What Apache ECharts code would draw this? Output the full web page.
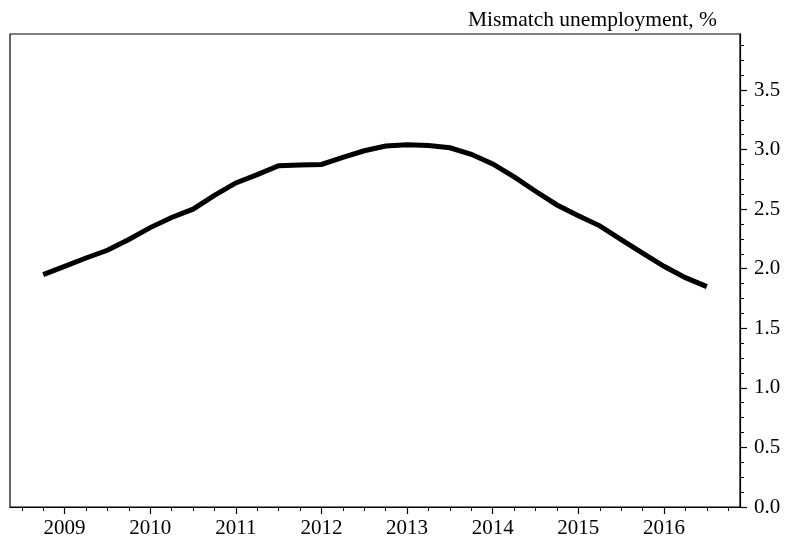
<!DOCTYPE html>
<html>
<head>
<meta charset="utf-8">
<script src="https://cdn.jsdelivr.net/npm/echarts@6/dist/echarts.min.js"></script>
<style>html,body{margin:0;padding:0;background:#fff;}#c{width:786px;height:540px;}</style>
</head>
<body>
<div id="c"></div>
<script>
const quarters = [2008.75,2009.0,2009.25,2009.5,2009.75,2010.0,2010.25,2010.5,2010.75,2011.0,2011.25,2011.5,2011.75,2012.0,2012.25,2012.5,2012.75,2013.0,2013.25,2013.5,2013.75,2014.0,2014.25,2014.5,2014.75,2015.0,2015.25,2015.5,2015.75,2016.0,2016.25,2016.5];
const mismatch = [1.95,2.02,2.09,2.155,2.245,2.345,2.43,2.50,2.615,2.72,2.79,2.865,2.87,2.875,2.935,2.99,3.03,3.04,3.035,3.015,2.96,2.88,2.77,2.65,2.535,2.445,2.36,2.245,2.13,2.02,1.925,1.85];
const yearTicks = [2009,2010,2011,2012,2013,2014,2015,2016];
const quarterTicks = [];
for (let y = 2008.5; y <= 2016.75; y += 0.25) quarterTicks.push(y);
const yMajor = [0,0.5,1,1.5,2,2.5,3,3.5];
const yMinor = [];
for (let v = 0; v <= 3.9; v += 0.125) yMinor.push(+v.toFixed(3));

const font = 'Liberation Serif';
const X_MIN = 2008.3625, X_MAX = 2016.8875, Y_MIN = 0, Y_MAX = 3.97;
const chart = echarts.init(document.getElementById('c'), null, {renderer: 'canvas'});
chart.setOption({
  animation: false,
  backgroundColor: '#fff',
  title: {
    text: 'Mismatch unemployment, %',
    right: 64, top: 4,
    textStyle: {fontFamily: font, fontSize: 21.5, fontWeight: 'normal', color: '#000'}
  },
  grid: {left: 10, right: 46, top: 34, bottom: 33, show: true, borderColor: '#000', borderWidth: 1.2, containLabel: false},
  xAxis: [
    {
      type: 'value', min: X_MIN, max: X_MAX, position: 'bottom',
      axisLine: {show: true, lineStyle: {color: '#000', width: 1.2}},
      axisTick: {show: true, customValues: yearTicks, length: 7, lineStyle: {color: '#000', width: 1.2}},
      axisLabel: {show: true, customValues: yearTicks, margin: 11, formatter: v => String(Math.round(v)),
        fontFamily: font, fontSize: 21, color: '#000'},
      splitLine: {show: false}
    },
    {
      type: 'value', min: X_MIN, max: X_MAX, position: 'bottom',
      axisLine: {show: false},
      axisTick: {show: true, customValues: quarterTicks, length: 4, lineStyle: {color: '#000', width: 1}},
      axisLabel: {show: false},
      splitLine: {show: false}
    }
  ],
  yAxis: [
    {
      type: 'value', min: Y_MIN, max: Y_MAX, position: 'right',
      axisLine: {show: true, lineStyle: {color: '#000', width: 1.2}},
      axisTick: {show: true, customValues: yMajor, length: 7, lineStyle: {color: '#000', width: 1.2}},
      axisLabel: {show: true, customValues: yMajor, margin: 14, formatter: v => v.toFixed(1),
        fontFamily: font, fontSize: 21, color: '#000'},
      splitLine: {show: false}
    },
    {
      type: 'value', min: Y_MIN, max: Y_MAX, position: 'right',
      axisLine: {show: false},
      axisTick: {show: true, customValues: yMinor, length: 4, lineStyle: {color: '#000', width: 1}},
      axisLabel: {show: false},
      splitLine: {show: false}
    }
  ],
  series: [{
    type: 'line',
    xAxisIndex: 0, yAxisIndex: 0,
    data: quarters.map((q, i) => [q, mismatch[i]]),
    showSymbol: false, symbol: 'none',
    lineStyle: {color: '#000', width: 5, join: 'miter'},
    itemStyle: {color: '#000'}
  }]
});
</script>
</body>
</html>
